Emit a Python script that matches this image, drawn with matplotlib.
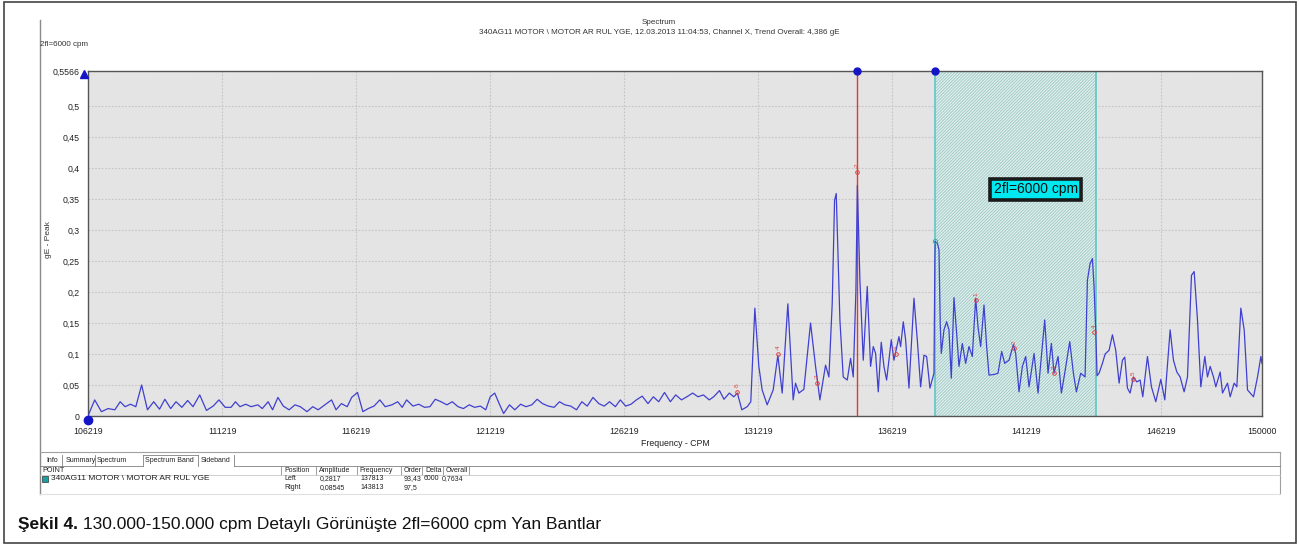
import matplotlib.pyplot as plt
import matplotlib.transforms as mtransforms
from matplotlib.lines import Line2D
from matplotlib.patches import Rectangle

plt.rcParams['font.family'] = ['Liberation Sans', 'DejaVu Sans']
plt.rcParams['hatch.linewidth'] = 0.6

W, H = 1299, 547

# spectrum trace (cpm, gE)
freq = [106219, 106469, 106719, 106969, 107219, 107419, 107602, 107802, 108002, 108219,
        108436, 108669, 108886, 109086, 109302, 109502, 109719, 109936, 110136, 110386,
        110636, 110886, 111102, 111336, 111552, 111719, 111886, 112102, 112302, 112552,
        112719, 112936, 113102, 113302, 113502, 113719, 113936, 114136, 114386, 114602,
        114802, 115052, 115302, 115469, 115669, 115886, 116052, 116269, 116469, 116669,
        116886, 117102, 117302, 117552, 117769, 117936, 118102, 118336, 118552, 118769,
        118969, 119169, 119386, 119602, 119802, 120019, 120219, 120436, 120636, 120852,
        121052, 121219, 121386, 121552, 121719, 121936, 122136, 122352, 122552, 122769,
        122969, 123169, 123386, 123602, 123802, 124002, 124219, 124436, 124636, 124836,
        125052, 125269, 125469, 125669, 125886, 126069, 126269, 126469, 126669, 126886,
        127102, 127302, 127502, 127719, 127936, 128136, 128352, 128552, 128769, 128969,
        129169, 129386, 129552, 129769, 129936, 130136, 130302, 130436, 130602, 130802,
        130936, 131087, 131236, 131360, 131547, 131771, 131945, 132107, 132318, 132517,
        132604, 132729, 132915, 133164, 133351, 133513, 133724, 133849, 133973, 134060,
        134122, 134259, 134383, 134533, 134657, 134757, 134856, 134910, 135005, 135130,
        135279, 135403, 135503, 135590, 135690, 135801, 135901, 136001, 136175, 136274,
        136461, 136523, 136623, 136710, 136834, 137021, 137145, 137269, 137394, 137493,
        137617, 137767, 137800, 137813, 137900, 137954, 138000, 138040, 138140, 138239,
        138326, 138413, 138513, 138613, 138700, 138824, 138948, 139073, 139197, 139322,
        139409, 139508, 139633, 139732, 139819, 140006, 140155, 140292, 140404, 140566,
        140727, 140814, 140939, 141063, 141188, 141312, 141499, 141648, 141897, 142021,
        142145, 142245, 142394, 142519, 142643, 142830, 142967, 143078, 143240, 143402,
        143489, 143589, 143676, 143738, 143800, 143850, 143924, 144049, 144150, 144297,
        144422, 144546, 144671, 144795, 144882, 144982, 145081, 145206, 145330, 145454,
        145554, 145728, 145877, 146039, 146226, 146375, 146574, 146698, 146823, 146947,
        147096, 147221, 147370, 147470, 147594, 147718, 147868, 147967, 148067, 148191,
        148278, 148440, 148527, 148714, 148813, 148962, 149062, 149211, 149336, 149460,
        149684, 149833, 149958, 150000]
amp = [0.000, 0.026, 0.007, 0.012, 0.010, 0.023, 0.015, 0.019, 0.015, 0.050,
       0.010, 0.023, 0.011, 0.027, 0.012, 0.023, 0.014, 0.025, 0.015, 0.034,
       0.009, 0.016, 0.026, 0.014, 0.014, 0.023, 0.015, 0.019, 0.015, 0.018,
       0.012, 0.023, 0.010, 0.030, 0.016, 0.010, 0.018, 0.015, 0.007, 0.015,
       0.010, 0.018, 0.026, 0.010, 0.020, 0.015, 0.030, 0.038, 0.007, 0.012,
       0.016, 0.026, 0.015, 0.018, 0.023, 0.014, 0.026, 0.016, 0.019, 0.014,
       0.015, 0.027, 0.023, 0.018, 0.023, 0.015, 0.012, 0.018, 0.014, 0.016,
       0.010, 0.031, 0.037, 0.020, 0.004, 0.018, 0.010, 0.019, 0.015, 0.018,
       0.027, 0.020, 0.016, 0.014, 0.023, 0.018, 0.016, 0.010, 0.023, 0.016,
       0.030, 0.020, 0.016, 0.023, 0.015, 0.026, 0.016, 0.019, 0.026, 0.032,
       0.020, 0.031, 0.023, 0.038, 0.023, 0.034, 0.026, 0.031, 0.037, 0.031,
       0.034, 0.026, 0.031, 0.041, 0.027, 0.037, 0.031, 0.037, 0.010, 0.015,
       0.023, 0.174, 0.080, 0.042, 0.018, 0.042, 0.098, 0.037, 0.181, 0.026,
       0.053, 0.037, 0.043, 0.150, 0.080, 0.026, 0.082, 0.063, 0.182, 0.348,
       0.359, 0.155, 0.063, 0.058, 0.093, 0.063, 0.203, 0.372, 0.219, 0.090,
       0.209, 0.080, 0.112, 0.101, 0.039, 0.119, 0.080, 0.058, 0.123, 0.090,
       0.128, 0.112, 0.152, 0.123, 0.045, 0.190, 0.123, 0.047, 0.098, 0.096,
       0.045, 0.069, 0.250, 0.2817, 0.278, 0.268, 0.150, 0.101, 0.139, 0.152,
       0.139, 0.061, 0.191, 0.133, 0.080, 0.117, 0.085, 0.112, 0.096, 0.190,
       0.144, 0.112, 0.179, 0.112, 0.066, 0.067, 0.069, 0.104, 0.085, 0.090,
       0.115, 0.101, 0.039, 0.080, 0.096, 0.047, 0.101, 0.037, 0.155, 0.069,
       0.117, 0.069, 0.096, 0.037, 0.069, 0.120, 0.069, 0.039, 0.069, 0.063,
       0.219, 0.246, 0.254, 0.208, 0.136, 0.065, 0.069, 0.085, 0.100, 0.106,
       0.131, 0.106, 0.053, 0.090, 0.095, 0.045, 0.037, 0.063, 0.055, 0.058,
       0.031, 0.096, 0.047, 0.023, 0.059, 0.026, 0.139, 0.090, 0.071, 0.063,
       0.039, 0.063, 0.227, 0.233, 0.155, 0.047, 0.096, 0.063, 0.080, 0.063,
       0.047, 0.071, 0.037, 0.053, 0.031, 0.053, 0.047, 0.174, 0.139, 0.042,
       0.031, 0.063, 0.096, 0.085]

band_left = 137813
band_right = 143813
cursor_freq = 134900
x_min, x_max = 106219, 150000
y_max = 0.5566

sb_labels = ['-5', '-4', '-3', '-2', '-1', '1', '2', '3', '4', '5']
sb_freq = [130427, 131945, 133413, 134900, 136336, 139322, 140752, 142245, 143738, 145206]
sb_amp = [0.039, 0.100, 0.053, 0.394, 0.100, 0.187, 0.109, 0.069, 0.136, 0.059]

xtick_vals = [106219, 111219, 116219, 121219, 126219, 131219, 136219, 141219, 146219, 150000]
ytick_vals = [0, 0.05, 0.1, 0.15, 0.2, 0.25, 0.3, 0.35, 0.4, 0.45, 0.5, 0.5566]
ytick_labels = ['0', '0,05', '0,1', '0,15', '0,2', '0,25', '0,3', '0,35', '0,4', '0,45', '0,5', '0,5566']

tab_names = ['Info', 'Summary', 'Spectrum', 'Spectrum Band', 'Sideband']
col_names = ['Position', 'Amplitude', 'Frequency', 'Order', 'Delta', 'Overall']
point_name = '340AG11 MOTOR \\ MOTOR AR RUL YGE'
row_left = ['Left', '0,2817', '137813', '93,43', '6000', '0,7634']
row_right = ['Right', '0,08545', '143813', '97,5']


def fx(x):
    return x / W


def fy(y):
    return 1 - y / H


def hline(x0, x1, y, color='#9a9a9a', lw=0.8):
    fig.add_artist(Line2D([fx(x0), fx(x1)], [fy(y), fy(y)], transform=fig.transFigure, color=color, lw=lw))


def vline(x, y0, y1, color='#9a9a9a', lw=0.8):
    fig.add_artist(Line2D([fx(x), fx(x)], [fy(y0), fy(y1)], transform=fig.transFigure, color=color, lw=lw))


fig = plt.figure(figsize=(W / 100, H / 100), dpi=100)
fig.patch.set_facecolor('white')

ax = fig.add_axes([fx(88), fy(416), (1262 - 88) / W, (416 - 71) / H])
ax.set_facecolor('#e4e4e4')
ax.set_xlim(x_min, x_max)
ax.set_ylim(0, y_max)

ax.set_xticks(xtick_vals)
ax.set_xticklabels([str(v) for v in xtick_vals])
ax.set_yticks(ytick_vals)
ax.set_yticklabels(ytick_labels)
ax.tick_params(length=0, labelsize=6.3, colors='#222222')
ax.tick_params(axis='x', pad=8)
ax.tick_params(axis='y', pad=6)
ax.grid(True, color='#c4c4c4', linestyle=(0, (1.5, 1.5)), lw=0.8)
ax.set_axisbelow(True)
for s in ax.spines.values():
    s.set_color('#555555')
    s.set_linewidth(1.0)

ax.set_xlabel('Frequency - CPM', fontsize=6.3, color='#222222', labelpad=2)

# sideband band
ax.axvspan(band_left, band_right, facecolor='#e0f0ee', edgecolor='#9cc6c2', hatch='/' * 11, lw=0, zorder=1)
ax.axvline(band_left, color='#5cc8c8', lw=1.2, zorder=2)
ax.axvline(band_right, color='#5cc8c8', lw=1.2, zorder=2)

# cursor
ax.axvline(cursor_freq, color='#e23a2a', lw=1.0, zorder=3)

ax.plot(freq, amp, color='#4040d0', lw=0.9, zorder=4)

ax.plot([band_left], [0.2817], marker='o', ms=3, mfc='none', mec='#40b0b0', mew=0.8, zorder=5)

# sideband markers
ax.plot(sb_freq, sb_amp, ls='none', marker='o', ms=2.6, mfc='none', mec='#e04040', mew=0.7, zorder=5)
lab_off = mtransforms.offset_copy(ax.transData, fig=fig, x=0, y=3, units='points')
for lab, f, a in zip(sb_labels, sb_freq, sb_amp):
    ax.text(f, a, lab, transform=lab_off, fontsize=4.5, color='#e04040', rotation=90,
            ha='center', va='bottom', zorder=6)

# blue cursor handles
ax.plot([cursor_freq, band_left], [y_max, y_max], ls='none', marker='o', ms=5, color='#1515c8', clip_on=False, zorder=7)
dot_off = mtransforms.offset_copy(ax.transData, fig=fig, x=0, y=-3, units='points')
ax.plot([x_min], [0], ls='none', marker='o', ms=6, color='#1515c8', clip_on=False, zorder=7, transform=dot_off)
tri_off = mtransforms.offset_copy(ax.transData, fig=fig, x=-3, y=-2.5, units='points')
ax.plot([x_min], [y_max], ls='none', marker='^', ms=6, color='#1515c8', clip_on=False, zorder=7, transform=tri_off)

ax.text(141560, 0.366, '2fl=6000 cpm', fontsize=10, color='#111111', ha='center', va='center', zorder=8,
        bbox=dict(boxstyle='square,pad=0.25', facecolor='#00e8f0', edgecolor='#1a1a1a', lw=2.6))

# header texts
fig.text(fx(659), fy(22), 'Spectrum', fontsize=5.8, color='#333333', ha='center', va='center')
fig.text(fx(659), fy(33), '340AG11 MOTOR \\ MOTOR AR RUL YGE, 12.03.2013 11:04:53, Channel X, Trend Overall: 4,386 gE',
         fontsize=5.8, color='#333333', ha='center', va='center')
fig.text(fx(40), fy(44), '2fl=6000 cpm', fontsize=5.8, color='#333333', ha='left', va='center')
fig.text(fx(48), fy(240), 'gE - Peak', fontsize=6, color='#333333', ha='center', va='center', rotation=90)

# screenshot frame
vline(40, 20, 494, color='#8a8a8a', lw=1.0)

# table panel
hline(40, 1280, 452, color='#a0a0a0', lw=0.8)
vline(1280, 452, 494, color='#a0a0a0', lw=0.8)
hline(40, 1280, 494, color='#e0e0e0', lw=0.8)
tab_x = [46, 66, 97, 145, 201]
for name, tx in zip(tab_names, tab_x):
    fig.text(fx(tx), fy(461), name, fontsize=5.0, color='#222222', ha='left', va='center')
for sx in [62, 95, 143, 198, 234]:
    vline(sx, 455, 466, color='#808080', lw=0.6)
hline(143, 198, 455, color='#808080', lw=0.6)
hline(234, 1280, 466, color='#808080', lw=0.6)
hline(40, 143, 466, color='#808080', lw=0.6)

fig.text(fx(42), fy(470.5), 'POINT', fontsize=5.2, color='#222222', ha='left', va='center')
col_x = [284, 319, 359, 404, 425, 446]
for name, cx in zip(col_names, col_x):
    fig.text(fx(cx), fy(470.5), name, fontsize=5.0, color='#222222', ha='left', va='center')
for sx in [281, 316, 357, 401, 422, 443, 469]:
    vline(sx, 466, 475, color='#909090', lw=0.6)
hline(40, 1280, 475, color='#c8c8c8', lw=0.6)

fig.add_artist(Rectangle((fx(42), fy(482)), 6 / W, 6 / H, transform=fig.transFigure,
                         facecolor='#19a0a0', edgecolor='#333333', lw=0.5))
fig.text(fx(51), fy(479), point_name, fontsize=6.0, color='#222222', ha='left', va='center')
val_x = [284, 320, 360, 404, 424, 442]
for v, vx in zip(row_left, val_x):
    fig.text(fx(vx), fy(479), v, fontsize=5.0, color='#222222', ha='left', va='center')
for v, vx in zip(row_right, val_x):
    fig.text(fx(vx), fy(487.5), v, fontsize=5.0, color='#222222', ha='left', va='center')

# caption
t1 = fig.text(fx(18), fy(532), 'Şekil 4.', fontsize=12.5, fontweight='bold',
              color='#111111', ha='left', va='bottom')
ax.annotate(' 130.000-150.000 cpm Detaylı Görünüşte 2fl=6000 cpm Yan Bantlar', xy=(1, 0), xycoords=t1,
            fontsize=12.5, color='#111111', ha='left', va='bottom', annotation_clip=False)

# outer border
fig.add_artist(Rectangle((fx(4), fy(543)), (1296 - 4) / W, (543 - 2) / H, transform=fig.transFigure,
                         facecolor='none', edgecolor='#444444', lw=1.2))

fig.savefig('out.png', dpi=100)
